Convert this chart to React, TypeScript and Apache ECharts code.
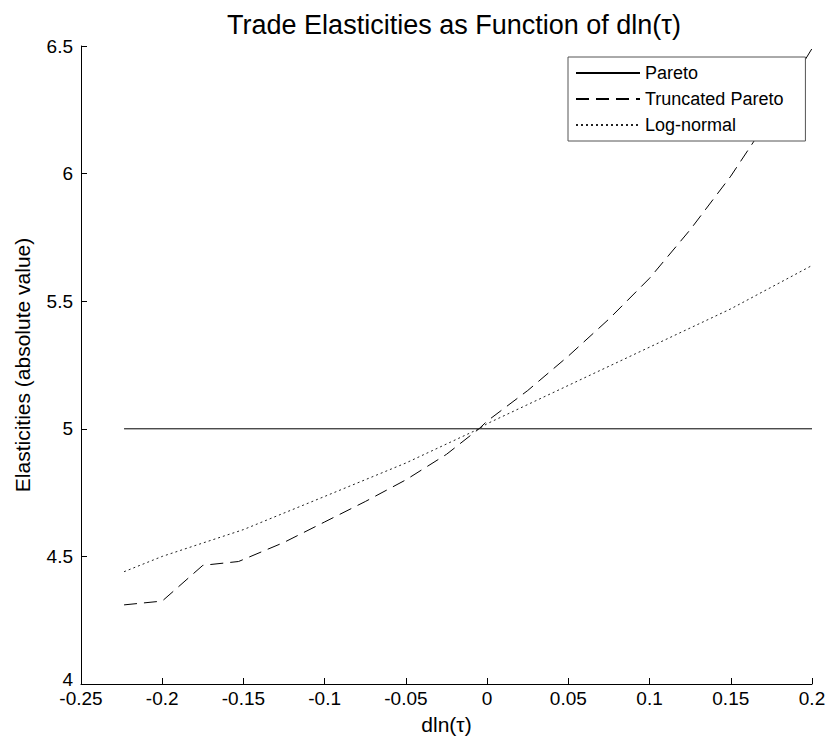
import React, { useEffect, useRef } from "react";
import * as echarts from "echarts";

const xPareto = [-0.2235, 0.2];
const yPareto = [5, 5];

const xTrunc = [-0.2235, -0.2, -0.175, -0.153, -0.125, -0.1, -0.075, -0.05, -0.025, -0.005, 0, 0.025, 0.05, 0.075, 0.1, 0.125, 0.15, 0.175, 0.2];
const yTrunc = [4.31, 4.325, 4.465, 4.48, 4.555, 4.635, 4.715, 4.80, 4.90, 5.0, 5.03, 5.15, 5.285, 5.43, 5.59, 5.78, 5.99, 6.23, 6.49];

const xLogn = [-0.2235, -0.2, -0.15, -0.1, -0.05, -0.005, 0, 0.05, 0.1, 0.15, 0.2];
const yLogn = [4.44, 4.50, 4.605, 4.735, 4.866, 5.0, 5.02, 5.17, 5.32, 5.47, 5.64];

const xTicks = { min: -0.25, max: 0.2, interval: 0.05 };
const yTicks = { min: 4, max: 6.5, interval: 0.5 };

const zip = (xs: number[], ys: number[]) => xs.map((x, i) => [x, ys[i]]);

export default function App() {
  const ref = useRef<HTMLDivElement>(null);
  useEffect(() => {
    const chart = echarts.init(ref.current!, null, { renderer: "svg" });
    const font = "Liberation Sans, Arial, sans-serif";
    chart.setOption({
      animation: false,
      backgroundColor: "#fff",
      title: {
        text: "Trade Elasticities as Function of dln(τ)",
        left: 449,
        textAlign: "center",
        top: 6,
        textStyle: { fontFamily: font, fontSize: 27, fontWeight: "normal", color: "#000" },
      },
      grid: { left: 81, right: 22, top: 46, bottom: 65 },
      legend: {
        orient: "vertical",
        left: 568,
        top: 57,
        itemWidth: 64,
        itemHeight: 14,
        itemGap: 6,
        padding: [6, 22, 6, 7],
        borderColor: "#555",
        borderWidth: 1,
        backgroundColor: "#fff",
        itemStyle: { opacity: 0 },
        textStyle: { fontFamily: font, fontSize: 18, color: "#000", lineHeight: 20 },
        data: ["Pareto", "Truncated Pareto", "Log-normal"],
      },
      xAxis: {
        type: "value",
        min: xTicks.min,
        max: xTicks.max,
        interval: xTicks.interval,
        name: "dln(τ)",
        nameLocation: "middle",
        nameGap: 30,
        nameTextStyle: { fontFamily: font, fontSize: 21, color: "#000" },
        axisLine: { onZero: false, lineStyle: { color: "#000", width: 1 } },
        axisTick: { inside: true, length: 6, lineStyle: { color: "#000" } },
        axisLabel: {
          fontFamily: font,
          fontSize: 19,
          color: "#000",
          margin: 5,
          formatter: (v: number) => String(parseFloat(v.toFixed(2))),
        },
        splitLine: { show: false },
      },
      yAxis: {
        type: "value",
        min: yTicks.min,
        max: yTicks.max,
        interval: yTicks.interval,
        name: "Elasticities (absolute value)",
        nameLocation: "middle",
        nameGap: 48,
        nameTextStyle: { fontFamily: font, fontSize: 21, color: "#000" },
        axisLine: { onZero: false, lineStyle: { color: "#000", width: 1 } },
        axisTick: { inside: true, length: 6, lineStyle: { color: "#000" } },
        axisLabel: {
          fontFamily: font,
          fontSize: 19,
          color: "#000",
          margin: 8,
          formatter: (v: number) => {
            const s = String(parseFloat(v.toFixed(2)));
            return v === yTicks.min ? "{low|" + s + "}" : s;
          },
          rich: { low: { fontFamily: font, fontSize: 19, color: "#000", padding: [0, 0, 10, 0] } },
        },
        splitLine: { show: false },
      },
      series: [
        {
          name: "Pareto",
          type: "line",
          data: zip(xPareto, yPareto),
          symbol: "none",
          lineStyle: { color: "#000", width: 1, type: "solid" },
          itemStyle: { color: "#000" },
        },
        {
          name: "Truncated Pareto",
          type: "line",
          data: zip(xTrunc, yTrunc),
          symbol: "none",
          lineStyle: { color: "#000", width: 1, type: [13, 7] },
          itemStyle: { color: "#000" },
        },
        {
          name: "Log-normal",
          type: "line",
          data: zip(xLogn, yLogn),
          symbol: "none",
          lineStyle: { color: "#222", width: 1, type: [2, 3] },
          itemStyle: { color: "#222" },
        },
      ],
    });
    return () => chart.dispose();
  }, []);
  return (
    <div
      ref={ref}
      style={{ position: "absolute", left: 0, top: 0, width: 834, height: 749 }}
    />
  );
}
